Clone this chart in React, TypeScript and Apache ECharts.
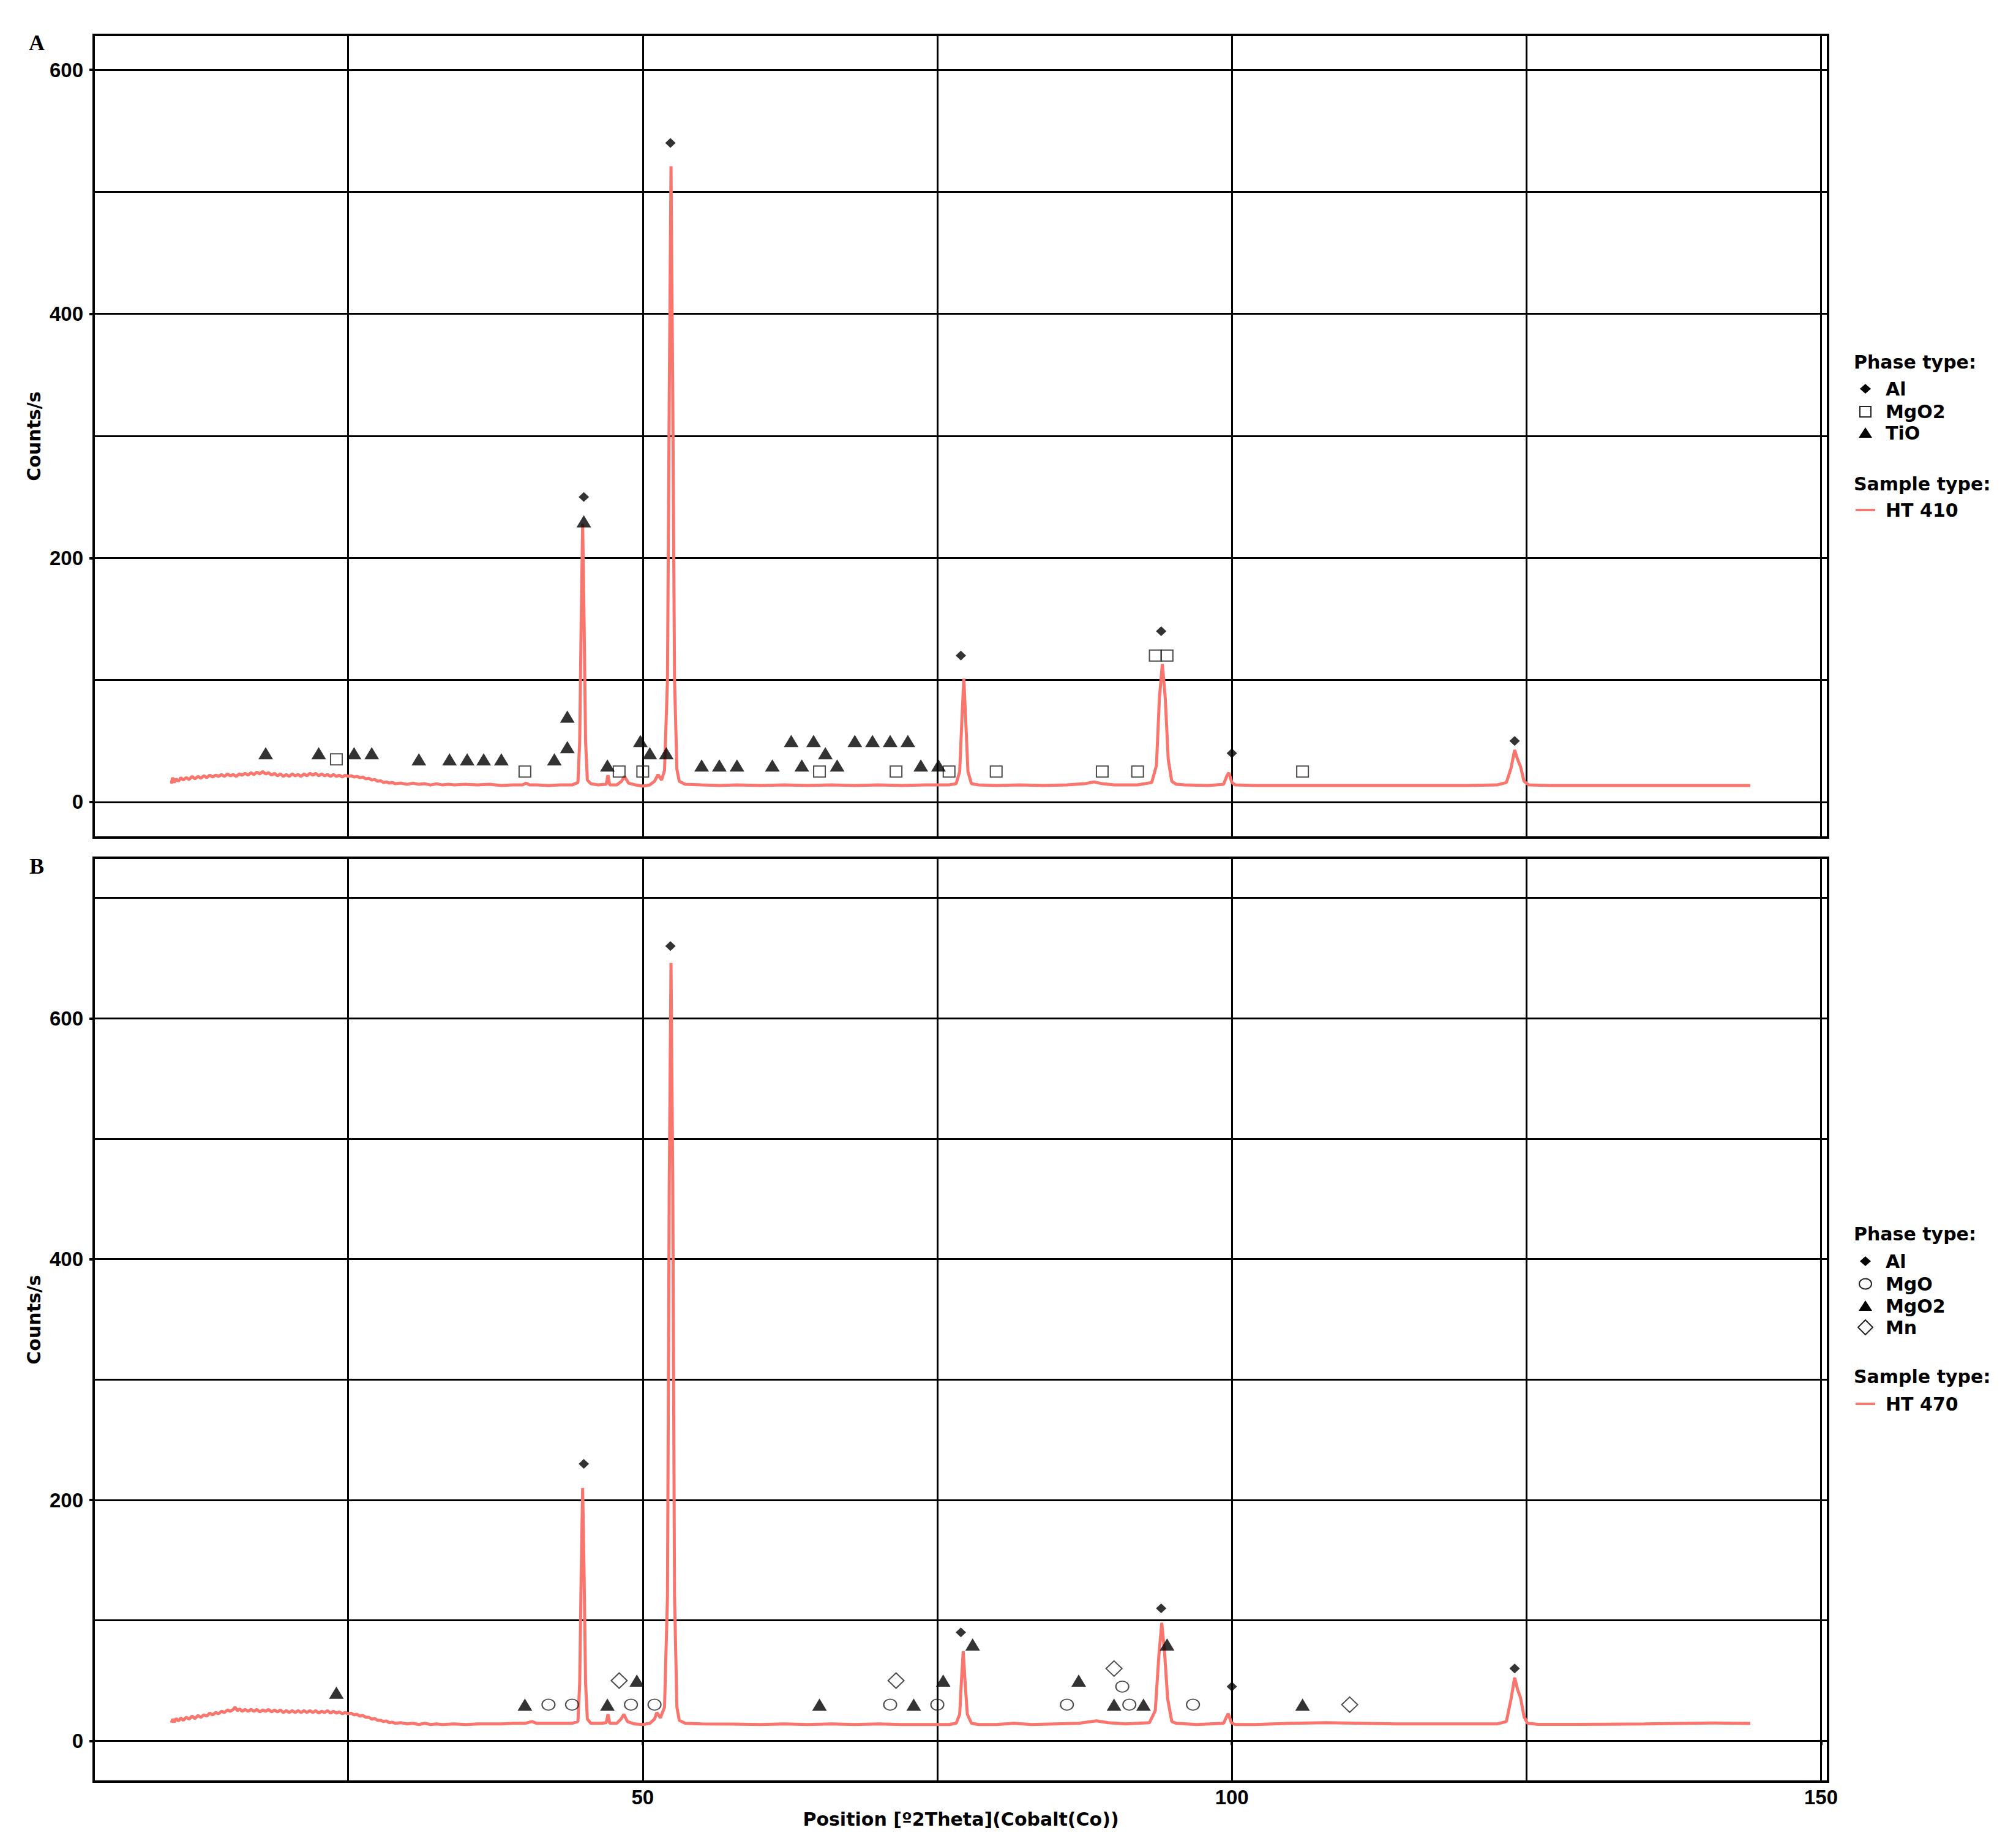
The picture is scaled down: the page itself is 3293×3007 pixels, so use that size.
import React, { useEffect, useRef } from "react";
import * as echarts from "echarts";

// ---------- DATA ----------
const xTickLabels = [50, 100, 150];
const yTickLabels = [0, 200, 400, 600];

// Sample HT 410 scan: [2theta, counts/s]
const scanA: [number, number][] = [
  [10.0,15],[10.1,20],[10.25,16],[10.4,19],[10.6,17],[10.8,20],[11.0,18],[11.25,20],[11.5,18.5],[11.75,21],
  [12.0,19],[12.25,21],[12.5,19.5],[12.75,21.5],[13.0,20],[13.25,22],[13.5,20.5],[13.75,22],[14.0,21],[14.25,22.5],
  [14.5,21],[14.75,23],[15.0,21.5],[15.25,22.5],[15.5,21],[15.75,23],[16.0,22],[16.25,23.5],[16.5,22],[16.75,24],
  [17.0,22.5],[17.25,24.5],[17.5,23],[17.75,25],[18.0,23],[18.25,24],[18.5,22],[18.75,23.5],[19.0,21.5],[19.25,23],
  [19.5,21],[19.75,22.5],[20.0,21],[20.25,23],[20.5,21.5],[20.75,22.5],[21.0,21],[21.25,23],[21.5,21.5],[21.75,23.5],
  [22.0,22],[22.25,23.5],[22.5,21.5],[22.75,23],[23.0,21.5],[23.25,22.5],[23.5,21],[23.75,22.5],[24.0,21],[24.25,22],
  [24.5,20.5],[24.75,22],[25.0,21],[25.25,21.5],[25.5,20.5],[25.75,21],[26.0,20],[26.25,20.5],[26.5,19],[26.75,19.5],
  [27.0,18],[27.25,18.5],[27.5,17],[27.75,17.5],[28.0,16],[28.25,16.5],[28.5,15.5],[28.75,16],[29.0,15],[29.5,15.5],
  [30.0,14.5],[30.5,15.5],[31.0,14.5],[31.5,15],[32.0,14],[32.5,15],[33.0,14],[33.5,14.5],[34.0,14],[35.0,14.5],
  [36.0,14],[37.0,14.5],[38.0,13.5],[39.0,14],[39.8,14],[40.1,15.5],[40.4,14],[41.0,14],[42.0,13.5],[43.0,14],
  [44.0,14],[44.5,16],[44.65,50],[44.78,150],[44.9,228],[45.02,150],[45.15,50],[45.3,18],[45.6,15],[46.2,14],
  [46.9,14.5],[47.05,22],[47.2,14],[47.8,14],[48.2,17],[48.45,21],[48.8,15.5],[49.4,14],[50.0,13],[50.6,14],
  [51.0,17],[51.3,22.5],[51.6,18],[51.85,26],[52.1,100],[52.25,330],[52.4,521],[52.55,330],[52.7,100],[52.9,27],
  [53.1,17],[53.6,14.5],[55.0,14],[56.5,13.5],[58.0,14],[60.0,13.5],[62.0,14],[64.0,13.5],[66.0,14],[68.0,13.5],
  [70.0,14],[72.0,13.5],[74.0,14],[76.0,14],[76.6,15],[76.9,25],[77.1,70],[77.25,101],[77.4,70],[77.6,25],
  [77.9,15],[78.5,14],[80.0,13.5],[82.0,14],[84.0,13.5],[86.0,14],[87.5,15],[88.3,16.5],[89.0,15],[90.0,14],
  [92.0,14],[93.2,16],[93.6,30],[93.85,85],[94.1,113],[94.35,85],[94.6,35],[94.9,17],[95.3,14.5],[96.0,14],
  [98.0,13.5],[99.3,14.5],[99.6,22],[99.75,24],[100.0,16],[100.3,14],[102.0,13.5],[105.0,13.5],[108.0,13.5],[111.0,13.5],
  [114.0,13.5],[117.0,13.5],[120.0,13.5],[122.5,14],[123.3,16],[123.7,28],[124.0,42.6],[124.25,35],[124.5,29],[124.8,17],
  [125.2,14],[127.0,13.5],[130.0,13.5],[133.0,13.5],[136.0,13.5],[139.0,13.5],[142.0,13.5],[144.0,13.5]
];

// Sample HT 470 scan: [2theta, counts/s]
const scanB: [number, number][] = [
  [10.0,15],[10.1,18],[10.25,15.5],[10.4,18.5],[10.6,16.5],[10.8,19],[11.0,17],[11.25,19.5],[11.5,18],[11.75,20.5],
  [12.0,18.5],[12.25,21],[12.5,19.5],[12.75,21.5],[13.0,20.5],[13.25,23],[13.5,21.5],[13.75,23.5],[14.0,22.5],[14.25,24.5],
  [14.5,23.5],[14.75,25.5],[15.0,24.5],[15.25,26],[15.4,28],[15.6,25],[15.8,26.5],[16.0,24.5],[16.25,26],[16.5,24.5],
  [16.75,26],[17.0,24.5],[17.25,26],[17.5,24],[17.75,25.5],[18.0,24.5],[18.25,26],[18.5,24],[18.75,25.5],[19.0,24],
  [19.25,25.5],[19.5,23.5],[19.75,25],[20.0,23.5],[20.25,25],[20.5,23.5],[20.75,25],[21.0,23.5],[21.25,25],[21.5,23.5],
  [21.75,25],[22.0,23.5],[22.25,25],[22.5,23],[22.75,24.5],[23.0,23.5],[23.25,25],[23.5,23],[23.75,24.5],[24.0,23],
  [24.25,24],[24.5,22.5],[24.75,23.5],[25.0,22.5],[25.25,23],[25.5,21.5],[25.75,22],[26.0,20.5],[26.25,21],[26.5,19.5],
  [26.75,19.5],[27.0,18],[27.25,18.5],[27.5,17],[27.75,17],[28.0,16],[28.25,16.5],[28.5,15],[28.75,15.5],[29.0,14.5],
  [29.5,15],[30.0,14],[30.5,14.5],[31.0,13.5],[31.5,14.5],[32.0,13.5],[32.5,14],[33.0,13.5],[34.0,14],[35.0,13.5],
  [36.0,14],[37.0,14],[38.0,14],[39.0,14.5],[40.0,14.5],[40.6,16],[41.0,14.5],[42.0,14.5],[43.0,14.5],[44.0,14.5],
  [44.5,16],[44.65,48],[44.78,140],[44.9,210],[45.02,140],[45.15,48],[45.3,18],[45.6,14.5],[46.5,14.5],[46.9,15],
  [47.05,22],[47.2,14.5],[47.8,14.5],[48.15,18],[48.4,22],[48.7,16],[49.3,14],[50.0,13.5],[50.6,14.5],[51.0,18],
  [51.2,23.5],[51.5,19],[51.85,28],[52.1,120],[52.25,460],[52.4,646],[52.55,460],[52.7,120],[52.9,28],[53.1,17],
  [53.6,14.5],[55.0,14],[57.5,13.9],[60.0,13.5],[62.0,14],[64.0,13.5],[66.0,14],[68.0,13.5],[70.0,14],[72.0,13.5],
  [74.0,13.5],[76.0,13.5],[76.6,14.5],[76.9,22],[77.05,50],[77.2,74.5],[77.35,50],[77.55,22],[77.9,14.5],[78.5,13.5],
  [80.0,13.5],[81.5,14.5],[83.0,13.5],[85.0,14],[87.0,14.5],[88.5,16.6],[89.5,15],[91.0,14],[93.0,15],[93.5,25],
  [93.8,70],[94.05,98],[94.3,72],[94.55,35],[94.9,16],[95.3,14.5],[97.0,13.5],[99.3,14.5],[99.55,20],[99.7,22.5],
  [99.95,15],[100.3,13.5],[102.0,13.5],[105.0,14.5],[108.0,15],[111.0,14.5],[114.0,14],[117.0,14],[120.0,14],[122.5,14],
  [123.3,16],[123.7,35],[124.0,52.5],[124.25,42.6],[124.5,35.8],[124.8,20],[125.1,14.5],[126.0,13.6],[129.0,13.6],[132.0,13.8],
  [135.0,14],[138.0,14.4],[141.0,14.8],[144.0,14.4]
];

// Phase markers, panel A
const alA = [[45.0,250],[52.35,540],[77.0,120],[94.0,140],[100.0,40],[124.0,50]];
const mgo2A = [[24.0,35],[40.0,25],[48.0,25],[50.0,25],[65.0,25],[71.5,25],[76.0,25],[80.0,25],[89.0,25],[92.0,25],[93.5,120],[94.5,120],[106.0,25]];
const tioA = [[18.0,40],[22.5,40],[25.5,40],[27.0,40],[31.0,35],[33.6,35],[35.1,35],[36.5,35],[38.0,35],[42.5,35],[43.6,45],[43.6,70],[45.0,230],[47.0,30],[49.8,50],[50.6,40],[52.0,40],[55.0,30],[56.5,30],[58.0,30],[61.0,30],[62.6,50],[63.5,30],[64.5,50],[65.5,40],[66.5,30],[68.0,50],[69.5,50],[71.0,50],[72.5,50],[73.6,30],[75.1,30]];

// Phase markers, panel B
const alB = [[45.0,230],[52.35,660],[77.0,90],[94.0,110],[100.0,45],[124.0,60]];
const mgoB = [[42.0,30],[44.0,30],[49.0,30],[51.0,30],[71.0,30],[75.0,30],[86.0,30],[90.7,45],[91.3,30],[96.7,30]];
const mgo2B = [[24.0,40],[40.0,30],[47.0,30],[49.5,50],[65.0,30],[73.0,30],[75.5,50],[78.0,80],[87.0,50],[90.0,30],[92.5,30],[94.5,80],[106.0,30]];
const mnB = [[48.0,50],[71.5,50],[90.0,60],[110.0,30]];

// ---------- STYLE ----------
const X_MIN = 3.4, X_MAX = 150.6;
const YA_MIN = -29.1, YA_MAX = 628.6;
const YB_MIN = -33.9, YB_MAX = 733.4;
const LINE_COLOR = "#F8766D";
const TICK_FONT = "Liberation Sans";
const TEXT_FONT = "DejaVu Sans";
const GRID_LINE = { color: "#000", width: 3 };

const ELLIPSE_PATH = "path://M0,-8 A10,8 0 1,1 0,8 A10,8 0 1,1 0,-8 Z";

function xAxisFor(gridIndex: number, labelled: boolean): any {
  return {
    type: "value", gridIndex, min: X_MIN, max: X_MAX, splitNumber: 3,
    axisLine: { show: false },
    axisTick: labelled
      ? { show: true, length: 7, lineStyle: { color: "#000", width: 4 }, customValues: xTickLabels }
      : { show: false },
    axisLabel: labelled
      ? {
          show: true, customValues: xTickLabels, margin: 9,
          formatter: (v: number) => (Math.abs(v % 50) < 1e-6 ? String(v) : ""),
          fontFamily: TICK_FONT, fontSize: 33, fontWeight: "bold", color: "#000",
        }
      : { show: false },
    splitLine: { show: true, lineStyle: GRID_LINE },
    minorTick: { show: false, splitNumber: 2 },
    minorSplitLine: { show: true, lineStyle: GRID_LINE },
    ...(labelled
      ? {
          name: "Position [º2Theta](Cobalt(Co))", nameLocation: "middle", nameGap: 46,
          nameTextStyle: { fontFamily: TEXT_FONT, fontSize: 30, fontWeight: "bold", color: "#000" },
        }
      : {}),
  };
}

function yAxisFor(gridIndex: number, min: number, max: number): any {
  return {
    type: "value", gridIndex, min, max, splitNumber: 4,
    axisLine: { show: false },
    axisTick: { show: true, length: 7, lineStyle: { color: "#000", width: 4 }, customValues: yTickLabels },
    axisLabel: {
      show: true, customValues: yTickLabels, margin: 17,
      formatter: (v: number) => (Math.abs(v % 200) < 1e-6 ? String(v) : ""),
      fontFamily: TICK_FONT, fontSize: 33, fontWeight: "bold", color: "#000",
    },
    splitLine: { show: true, lineStyle: GRID_LINE },
    minorTick: { show: false, splitNumber: 2 },
    minorSplitLine: { show: true, lineStyle: GRID_LINE },
    name: "Counts/s", nameLocation: "middle", nameGap: 81,
    nameTextStyle: { fontFamily: TEXT_FONT, fontSize: 30, fontWeight: "bold", color: "#000" },
  };
}

const filled = (color: string) => ({ color, borderWidth: 0 });
const open = { color: "rgba(0,0,0,0)", borderColor: "#222", borderWidth: 2 };

function markerSeries(name: string, idx: number, data: number[][], symbol: string, size: number[], itemStyle: any): any {
  return {
    type: "scatter", name, xAxisIndex: idx, yAxisIndex: idx, data,
    symbol, symbolSize: size, itemStyle, z: 5, silent: true,
  };
}

const txt = (x: number, y: number, text: string, size = 30, family = TEXT_FONT, align = "left"): any => ({
  type: "text", x, y, silent: true,
  style: { text, fill: "#000", fontSize: size, fontWeight: "bold", fontFamily: family, align, verticalAlign: "middle" },
});
const diamondFilled = (cx: number, cy: number): any => ({
  type: "polygon", silent: true,
  shape: { points: [[cx, cy - 8], [cx + 9, cy], [cx, cy + 8], [cx - 9, cy]] },
  style: { fill: "#000" },
});
const diamondOpen = (cx: number, cy: number): any => ({
  type: "polygon", silent: true,
  shape: { points: [[cx, cy - 12], [cx + 12, cy], [cx, cy + 12], [cx - 12, cy]] },
  style: { fill: "none", stroke: "#222", lineWidth: 2 },
});
const triangle = (cx: number, cy: number): any => ({
  type: "polygon", silent: true,
  shape: { points: [[cx, cy - 9], [cx + 11, cy + 8], [cx - 11, cy + 8]] },
  style: { fill: "#000" },
});
const square = (cx: number, cy: number): any => ({
  type: "rect", silent: true,
  shape: { x: cx - 9, y: cy - 8, width: 18, height: 17 },
  style: { fill: "none", stroke: "#222", lineWidth: 2 },
});
const ellipse = (cx: number, cy: number): any => ({
  type: "ellipse", silent: true,
  shape: { cx, cy, rx: 10, ry: 8.5 },
  style: { fill: "none", stroke: "#222", lineWidth: 2 },
});
const lineKey = (cx: number, cy: number): any => ({
  type: "line", silent: true,
  shape: { x1: cx - 16, y1: cy, x2: cx + 16, y2: cy },
  style: { stroke: LINE_COLOR, lineWidth: 4 },
});

export default function App() {
  const ref = useRef<HTMLDivElement>(null);
  useEffect(() => {
    document.body.style.margin = "0";
    if (!ref.current) return;
    const chart = echarts.init(ref.current, null, { renderer: "svg" });
    const LX = 3047, TX = 3080, HX = 3028;
    const option: any = {
      animation: false,
      backgroundColor: "#fff",
      grid: [
        { left: 153, top: 57, width: 2833, height: 1311, show: true, borderColor: "#000", borderWidth: 4, outerBoundsMode: "none" },
        { left: 153, top: 1401, width: 2833, height: 1509, show: true, borderColor: "#000", borderWidth: 4, outerBoundsMode: "none" },
      ],
      xAxis: [xAxisFor(0, false), xAxisFor(1, true)],
      yAxis: [yAxisFor(0, YA_MIN, YA_MAX), yAxisFor(1, YB_MIN, YB_MAX)],
      series: [
        { type: "line", name: "HT 410", xAxisIndex: 0, yAxisIndex: 0, data: scanA, showSymbol: false, symbol: "none",
          lineStyle: { color: LINE_COLOR, width: 5 }, z: 3, silent: true },
        markerSeries("Al", 0, alA, "diamond", [17, 16], filled("#000")),
        markerSeries("MgO2", 0, mgo2A, "rect", [19, 18], open),
        markerSeries("TiO", 0, tioA, "triangle", [24, 20], filled("#000")),
        { type: "line", name: "HT 470", xAxisIndex: 1, yAxisIndex: 1, data: scanB, showSymbol: false, symbol: "none",
          lineStyle: { color: LINE_COLOR, width: 5 }, z: 3, silent: true },
        markerSeries("Al", 1, alB, "diamond", [17, 16], filled("#000")),
        markerSeries("MgO", 1, mgoB, ELLIPSE_PATH, [21, 18], open),
        markerSeries("MgO2", 1, mgo2B, "triangle", [24, 20], filled("#000")),
        markerSeries("Mn", 1, mnB, "diamond", [26, 25], open),
      ],
      graphic: [
        txt(60, 70, "A", 36, "Liberation Serif", "center"),
        txt(60, 1415, "B", 36, "Liberation Serif", "center"),
        // Legend A
        txt(HX, 591, "Phase type:"),
        diamondFilled(LX, 635), txt(TX, 635, "Al"),
        square(LX, 672), txt(TX, 672, "MgO2"),
        triangle(LX, 707), txt(TX, 707, "TiO"),
        txt(HX, 790, "Sample type:"),
        lineKey(LX, 833), txt(TX, 833, "HT 410"),
        // Legend B
        txt(HX, 2015, "Phase type:"),
        diamondFilled(LX, 2060), txt(TX, 2060, "Al"),
        ellipse(LX, 2097), txt(TX, 2097, "MgO"),
        triangle(LX, 2133), txt(TX, 2133, "MgO2"),
        diamondOpen(LX, 2168), txt(TX, 2168, "Mn"),
        txt(HX, 2248, "Sample type:"),
        lineKey(LX, 2293), txt(TX, 2293, "HT 470"),
      ],
    };
    chart.setOption(option);
    return () => chart.dispose();
  }, []);
  return (
    <div
      ref={ref}
      style={{ position: "absolute", left: 0, top: 0, width: 3293, height: 3007, background: "#fff" }}
    />
  );
}
